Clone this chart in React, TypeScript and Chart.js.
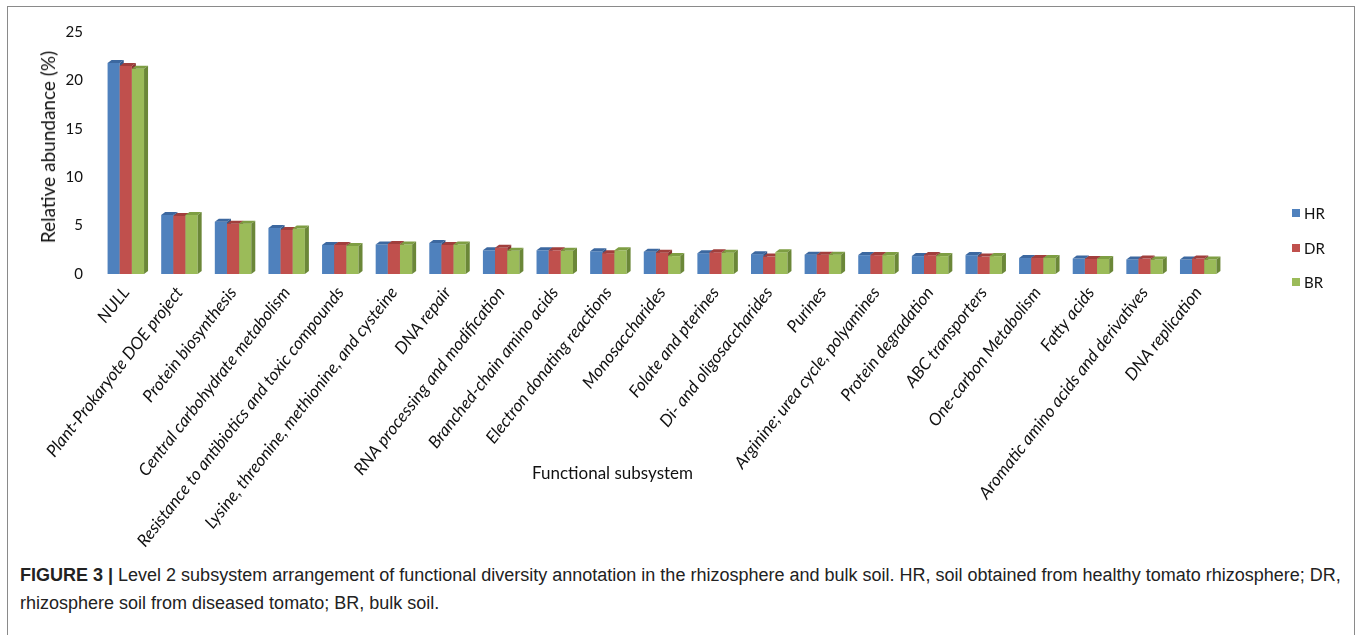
import { useEffect, useRef } from "react";
import { Chart, registerables } from "chart.js";

Chart.register(...registerables);

// Level 2 functional subsystems (x categories)
const categories = [
  "NULL",
  "Plant-Prokaryote DOE project",
  "Protein biosynthesis",
  "Central carbohydrate metabolism",
  "Resistance to antibiotics and toxic compounds",
  "Lysine, threonine, methionine, and cysteine",
  "DNA repair",
  "RNA processing and modification",
  "Branched-chain amino acids",
  "Electron donating reactions",
  "Monosaccharides",
  "Folate and pterines",
  "Di- and oligosaccharides",
  "Purines",
  "Arginine; urea cycle, polyamines",
  "Protein degradation",
  "ABC transporters",
  "One-carbon Metabolism",
  "Fatty acids",
  "Aromatic amino acids and derivatives",
  "DNA replication",
];

// Relative abundance (%) per sample type
const hrValues = [21.8, 6.1, 5.4, 4.75, 3.0, 3.05, 3.2, 2.45, 2.45, 2.35, 2.3, 2.15, 2.05, 2.0, 1.95, 1.85, 1.95, 1.65, 1.6, 1.5, 1.5];
const drValues = [21.5, 6.0, 5.2, 4.55, 3.0, 3.1, 3.0, 2.7, 2.45, 2.15, 2.2, 2.25, 1.8, 2.0, 1.95, 1.95, 1.8, 1.65, 1.55, 1.6, 1.6];
const brValues = [21.2, 6.1, 5.2, 4.7, 2.9, 3.05, 3.05, 2.4, 2.4, 2.45, 1.85, 2.2, 2.25, 2.0, 1.95, 1.85, 1.85, 1.65, 1.55, 1.5, 1.5];

const seriesNames = ["HR", "DR", "BR"];
const yTickValues = [0, 5, 10, 15, 20, 25];

const frontColors = ["#4F81BD", "#C0504D", "#9BBB59"];
const topColors = ["#3C68A0", "#A13F3C", "#7E9E43"];
const sideColors = ["#34598A", "#8A3532", "#6B8738"];

const yAxisTitle = "Relative abundance (%)";
const xAxisTitle = "Functional subsystem";
const captionLead = "FIGURE 3 |";
const captionLine1Rest =
  " Level 2 subsystem arrangement of functional diversity annotation in the rhizosphere and bulk soil. HR, soil obtained from healthy tomato rhizosphere; DR,";
const captionLine2 = "rhizosphere soil from diseased tomato; BR, bulk soil.";

const FONT = "Lato, 'Open Sans', sans-serif";

// Draws the bars as extruded columns: front face, slanted top and right side.
const columns3d = {
  id: "columns3d",
  afterDatasetsDraw(chart: any) {
    const ctx = chart.ctx;
    const dx = 4;
    const dy = 3;
    ctx.save();
    chart.data.datasets.forEach((_ds: any, i: number) => {
      const meta = chart.getDatasetMeta(i);
      meta.data.forEach((bar: any) => {
        const { x, y, base, width } = bar.getProps(["x", "y", "base", "width"], true);
        const l = x - width / 2;
        const r = x + width / 2;
        ctx.fillStyle = frontColors[i];
        ctx.fillRect(l, y, width, base - y);
        ctx.fillStyle = topColors[i];
        ctx.beginPath();
        ctx.moveTo(l, y);
        ctx.lineTo(l + dx, y - dy);
        ctx.lineTo(r + dx, y - dy);
        ctx.lineTo(r, y);
        ctx.closePath();
        ctx.fill();
        ctx.fillStyle = sideColors[i];
        ctx.beginPath();
        ctx.moveTo(r, y);
        ctx.lineTo(r + dx, y - dy);
        ctx.lineTo(r + dx, base - dy);
        ctx.lineTo(r, base);
        ctx.closePath();
        ctx.fill();
      });
    });
    ctx.restore();
  },
};

export default function App() {
  const canvasRef = useRef<HTMLCanvasElement | null>(null);

  useEffect(() => {
    if (!canvasRef.current) return;
    const seriesValues = [hrValues, drValues, brValues];
    const chart = new Chart(canvasRef.current, {
      type: "bar",
      data: {
        labels: categories,
        datasets: seriesNames.map((name, i) => ({
          label: name,
          data: seriesValues[i],
          backgroundColor: "rgba(0,0,0,0)",
          borderWidth: 0,
          categoryPercentage: 0.68,
          barPercentage: 1.0,
        })),
      },
      options: {
        animation: false,
        responsive: false,
        maintainAspectRatio: false,
        layout: { padding: { left: 0, right: 129, top: 20, bottom: 0 } },
        plugins: {
          legend: { display: false },
          tooltip: { enabled: false },
          title: { display: false },
        },
        scales: {
          x: {
            grid: { display: false, drawTicks: false },
            border: { display: false },
            ticks: {
              autoSkip: false,
              maxRotation: 52,
              minRotation: 52,
              padding: 9,
              color: "#111",
              font: { family: FONT, size: 17, style: "italic" },
            },
            afterFit: (scale: any) => {
              scale.height = 281;
            },
          },
          y: {
            min: 0,
            max: 25,
            grid: { display: false, drawTicks: false },
            border: { display: false },
            afterBuildTicks: (scale: any) => {
              scale.ticks = yTickValues.map((v) => ({ value: v }));
            },
            ticks: {
              padding: 16,
              color: "#111",
              font: { family: FONT, size: 15 },
            },
            afterFit: (scale: any) => {
              scale.width = 91;
            },
          },
        },
      },
      plugins: [columns3d],
    });
    return () => chart.destroy();
  }, []);

  return (
    <div
      style={{
        position: "absolute",
        left: 0,
        top: 0,
        width: 1358,
        height: 635,
        overflow: "hidden",
        background: "#fff",
      }}
    >
      <div
        style={{
          position: "absolute",
          left: 7,
          top: 6,
          width: 1346,
          height: 700,
          border: "1px solid #8a8a8a",
        }}
      />
      <canvas
        ref={canvasRef}
        width={1346}
        height={548}
        style={{ position: "absolute", left: 8, top: 7, width: 1346, height: 548 }}
      />
      <div
        style={{
          position: "absolute",
          left: 48,
          top: 147,
          transform: "translate(-50%, -50%) rotate(-90deg)",
          fontFamily: FONT,
          fontSize: 19,
          color: "#111",
          whiteSpace: "nowrap",
          lineHeight: "22px",
        }}
      >
        {yAxisTitle}
      </div>
      <div
        style={{
          position: "absolute",
          left: 532,
          top: 462,
          fontFamily: FONT,
          fontSize: 17,
          color: "#111",
          whiteSpace: "nowrap",
        }}
      >
        {xAxisTitle}
      </div>
      {seriesNames.map((name, i) => (
        <div
          key={name}
          style={{
            position: "absolute",
            left: 1292,
            top: 204 + i * 34.5,
            height: 18,
            display: "flex",
            alignItems: "center",
            fontFamily: FONT,
            fontSize: 15,
            color: "#111",
          }}
        >
          <span
            style={{
              display: "inline-block",
              width: 8,
              height: 8,
              background: frontColors[i],
              marginRight: 4,
            }}
          />
          {name}
        </div>
      ))}
      <div
        style={{
          position: "absolute",
          left: 20,
          top: 561,
          fontFamily: "'Liberation Sans', Arial, sans-serif",
          fontSize: 18,
          lineHeight: "28px",
          color: "#222",
          whiteSpace: "nowrap",
        }}
      >
        <span style={{ fontWeight: "bold" }}>{captionLead}</span>
        {captionLine1Rest}
        <br />
        {captionLine2}
      </div>
    </div>
  );
}
